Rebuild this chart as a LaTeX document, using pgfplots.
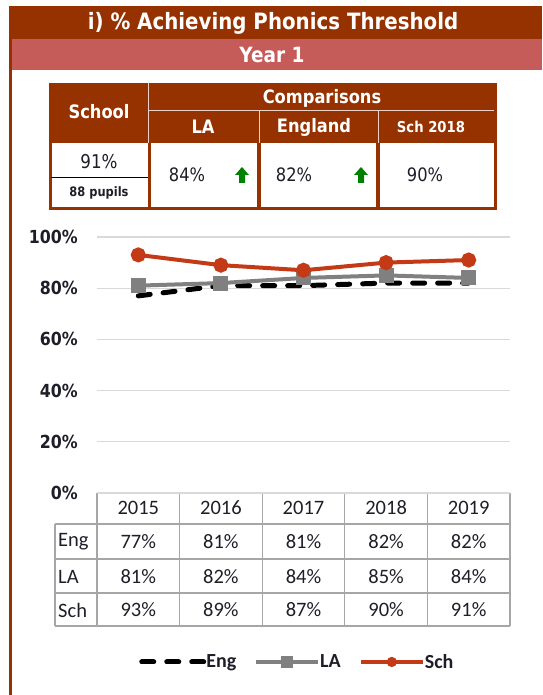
\documentclass[border=0pt]{standalone}
\usepackage{pgfplots}
\pgfplotsset{compat=1.18}
\usepackage{fontspec}
\setmainfont{Carlito}
\newfontfamily\tah{DejaVu Sans}[FakeStretch=0.88]
\definecolor{brownA}{RGB}{150,50,0}
\definecolor{pinkbar}{RGB}{198,92,90}
\definecolor{schred}{RGB}{196,58,22}
\definecolor{lagray}{RGB}{128,128,128}
\definecolor{gridc}{RGB}{217,217,217}
\definecolor{tabc}{RGB}{166,166,166}
\definecolor{arrowg}{RGB}{0,128,0}
\definecolor{sepc}{RGB}{235,210,200}
\definecolor{txt}{RGB}{30,30,40}
\begin{document}
\begin{tikzpicture}
\begin{scope}[x=1pt,y=1pt]
\path[use as bounding box] (0,0) rectangle (542,695);
% frame and title bars
\fill[brownA] (9,0) rectangle (12,689);
\fill[brownA] (9,656) rectangle (542,689);
\fill[pinkbar] (12,625) rectangle (542,656);
\node[white,font=\tah\bfseries\fontsize{22.5}{26}\selectfont] at (273,672) {i) \% Achieving Phonics Threshold};
\node[white,font=\tah\bfseries\fontsize{21}{25}\selectfont] at (272,640) {Year 1};
% summary table
\fill[brownA] (49,485) rectangle (497,612);
\fill[white] (52,488) rectangle (148,552);
\fill[white] (151,488) rectangle (257,552);
\fill[white] (261,488) rectangle (376,552);
\fill[white] (380,488) rectangle (494,552);
\draw[sepc,line width=0.8pt] (148,585) -- (494,585);
\draw[sepc,line width=0.8pt] (148,612) -- (148,552);
\draw[sepc,line width=0.8pt] (259,585) -- (259,552);
\draw[sepc,line width=0.8pt] (378,585) -- (378,552);
\draw[black,line width=1pt] (51,517) -- (148,517);
\node[white,font=\tah\bfseries\fontsize{18.5}{22}\selectfont] at (99,583) {School};
\node[white,font=\tah\bfseries\fontsize{18.5}{22}\selectfont] at (322,597) {Comparisons};
\node[white,font=\tah\bfseries\fontsize{18.5}{22}\selectfont] at (203,568) {LA};
\node[white,font=\tah\bfseries\fontsize{18.5}{22}\selectfont] at (314,568) {England};
\node[white,font=\tah\bfseries\fontsize{15}{18}\selectfont] at (431,568) {Sch 2018};
\node[txt,font=\tah\fontsize{19}{22}\selectfont] at (99,533) {91\%};
\node[txt,font=\tah\bfseries\fontsize{13}{16}\selectfont] at (99,502) {88 pupils};
\node[txt,font=\tah\fontsize{18.5}{22}\selectfont] at (187,520) {84\%};
\node[txt,font=\tah\fontsize{18.5}{22}\selectfont] at (294,520) {82\%};
\node[txt,font=\tah\fontsize{18.5}{22}\selectfont] at (425,520) {90\%};
\foreach \ax in {242,361}{
  \fill[arrowg] (\ax-7,520) -- (\ax,528) -- (\ax+7,520) -- (\ax+3,520) -- (\ax+3,512) -- (\ax-3,512) -- (\ax-3,520) -- cycle;
}
% data table
\draw[tabc,line width=1.2pt] (97,202) -- (510,202);
\foreach \yy in {171,136,102,69}{\draw[tabc,line width=1.2pt] (55,\yy) -- (510,\yy);}
\draw[tabc,line width=1.2pt] (55,171) -- (55,69);
\foreach \xx in {97,179.6,262.2,344.8,427.4,510}{\draw[tabc,line width=1.2pt] (\xx,202) -- (\xx,69);}
\foreach \lab [count=\i from 0] in {2015,2016,2017,2018,2019}{
  \node[txt,font=\fontsize{20.5}{24}\selectfont] at (138.3+82.6*\i,187) {\lab};}
\foreach \lab [count=\i from 0] in {77,81,81,82,82}{
  \node[txt,font=\fontsize{20.5}{24}\selectfont] at (138.3+82.6*\i,153) {\lab\%};}
\foreach \lab [count=\i from 0] in {81,82,84,85,84}{
  \node[txt,font=\fontsize{20.5}{24}\selectfont] at (138.3+82.6*\i,118) {\lab\%};}
\foreach \lab [count=\i from 0] in {93,89,87,90,91}{
  \node[txt,font=\fontsize{20.5}{24}\selectfont] at (138.3+82.6*\i,85) {\lab\%};}
\node[txt,anchor=west,inner sep=0pt,font=\fontsize{20.5}{24}\selectfont] at (58,153) {Eng};
\node[txt,anchor=west,inner sep=0pt,font=\fontsize{20.5}{24}\selectfont] at (58,118) {LA};
\node[txt,anchor=west,inner sep=0pt,font=\fontsize{20.5}{24}\selectfont] at (58,85) {Sch};
\end{scope}
\begin{axis}[at={(97pt,202pt)}, anchor=south west, scale only axis,
  width=413pt, height=256pt, xmin=-0.5, xmax=4.5, ymin=0, ymax=100,
  axis line style={draw=none}, xtick=\empty, ytick={0,20,...,100},
  ymajorgrids, grid style={gridc, line width=1.2pt}, major tick length=0pt,
  /pgf/number format/assume math mode=true,
  yticklabel={\pgfmathprintnumber{\tick}\%},
  yticklabel style={font=\tah\bfseries\fontsize{18}{21}\selectfont, text=txt, inner sep=0pt, xshift=-19pt},
  clip=false,
  legend columns=3,
  legend style={at={(0.485,-0.66)}, anchor=center, draw=none, fill=none,
    font=\bfseries\fontsize{20}{23}\selectfont, text=txt,
    /tikz/every even column/.append style={column sep=16pt},
    /tikz/every odd column/.append style={column sep=-2pt}},
  legend image code/.code={\draw[mark repeat=2,mark phase=2,#1] plot coordinates {(0pt,0pt) (31pt,0pt) (62pt,0pt)};},
]
\addplot[black, line width=5pt, line cap=round, dash pattern=on 12pt off 13pt] coordinates {(0,77) (1,81) (2,81) (3,82) (4,82)};
\addlegendentry{Eng}
\addplot[lagray, line width=4pt, mark=square*, mark size=5.5pt, mark options={solid}, legend image post style={mark size=4pt}] coordinates {(0,81) (1,82) (2,84) (3,85) (4,84)};
\addlegendentry{LA}
\addplot[schred, line width=4pt, mark=*, mark size=5.5pt, legend image post style={mark size=3pt}] coordinates {(0,93) (1,89) (2,87) (3,90) (4,91)};
\addlegendentry{Sch}
\end{axis}
\end{tikzpicture}
\end{document}
